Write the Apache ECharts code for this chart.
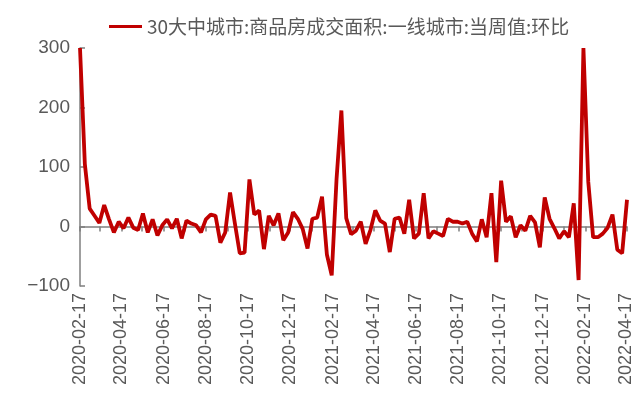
<!DOCTYPE html>
<html>
<head>
<meta charset="utf-8">
<script src="https://cdn.jsdelivr.net/npm/echarts@6/dist/echarts.min.js"></script>
<style>
  html, body { margin: 0; padding: 0; background: #ffffff; }
  #chart { width: 636px; height: 401px; }
</style>
</head>
<body>
<div id="chart"></div>
<script>
// Series name shown in the legend
const seriesName = '30大中城市:商品房成交面积:一线城市:当周值:环比';

// First weekly observation and the number of weeks
const firstWeek = [2020, 1, 17];   // 2020-02-17 (month is 0-based)
const weekCount = 114;

// Week-on-week change (%) per week
const wowChange = [
  300, 105, 30, 18, 6, 36, 12, -10, 8, -3,
  15, -2, -6, 22, -10, 12, -15, 2, 12, -3,
  13, -20, 10, 5, 2, -10, 12, 20, 18, -27,
  -10, 57, 5, -45, -44, 79, 20, 27, -38, 18,
  2, 22, -23, -10, 24, 13, -4, -37, 13, 15,
  50, -47, -82, 80, 195, 14, -13, -7, 8, -29,
  -6, 27, 10, 5, -43, 13, 15, -12, 45, -20,
  -12, 56, -20, -8, -12, -16, 13, 8, 8, 5,
  8, -12, -25, 12, -18, 56, -60, 77, 8, 17,
  -18, 2, -7, 18, 7, -35, 49, 13, -3, -20,
  -8, -18, 39, -90, 300, 75, -18, -18, -12, -2,
  20, -39, -45, 45
];

// Y axis range and step
const yMin = -100, yMax = 300, yStep = 100;

// Tick marks on the 17th of each month, labels every other month
const tickStart = [2020, 1, 17];
const tickMonths = 27;

const DAY = 86400000;
const weekDates = [];
for (let i = 0; i < weekCount; i++) {
  weekDates.push(new Date(firstWeek[0], firstWeek[1], firstWeek[2] + 7 * i).getTime());
}
const tickValues = [];
const labelValues = [];
for (let m = 0; m < tickMonths; m++) {
  const t = new Date(tickStart[0], tickStart[1] + m, tickStart[2]).getTime();
  tickValues.push(t);
  if (m % 2 === 0) labelValues.push(t);
}

function fmtDate(v) {
  // half a day of slack keeps the date stable under rounding
  const d = new Date(v + DAY / 2);
  const mm = String(d.getMonth() + 1).padStart(2, '0');
  const dd = String(d.getDate()).padStart(2, '0');
  return d.getFullYear() + '-' + mm + '-' + dd;
}

const xMin = weekDates[0];
const xMax = weekDates[weekDates.length - 1];
const textColor = '#595959';
const axisColor = '#7f7f7f';

const chart = echarts.init(document.getElementById('chart'), null, { renderer: 'canvas' });
chart.setOption({
  animation: false,
  backgroundColor: '#ffffff',
  textStyle: { fontFamily: 'Liberation Sans, Arial, sans-serif' },
  legend: {
    show: true,
    left: 104,
    top: 12,
    icon: 'rect',
    itemWidth: 33,
    itemHeight: 3,
    itemGap: 5,
    textStyle: { color: textColor, fontSize: 19, fontFamily: 'Noto Sans CJK SC' },
    data: [seriesName]
  },
  grid: { left: 80, right: 9, top: 48, bottom: 115, containLabel: false },
  xAxis: [
    {
      // Axis line and monthly ticks sitting on the zero line
      type: 'value',
      min: xMin,
      max: xMax,
      axisLine: { show: true, onZero: true, lineStyle: { color: axisColor, width: 1.5 } },
      axisTick: { show: true, inside: false, length: 5, customValues: tickValues, lineStyle: { color: axisColor, width: 1.5 } },
      axisLabel: { show: false },
      splitLine: { show: false }
    },
    {
      // Date labels along the bottom edge
      type: 'value',
      position: 'bottom',
      min: xMin,
      max: xMax,
      axisLine: { show: false, onZero: false },
      axisTick: { show: false },
      splitLine: { show: false },
      axisLabel: {
        show: true,
        customValues: labelValues,
        rotate: 90,
        margin: 7,
        color: textColor,
        fontSize: 18,
        showMinLabel: true,
        showMaxLabel: true,
        hideOverlap: false,
        formatter: (v) => fmtDate(v)
      }
    }
  ],
  yAxis: {
    type: 'value',
    min: yMin,
    max: yMax,
    interval: yStep,
    axisLine: { show: true, lineStyle: { color: axisColor, width: 1.5 } },
    axisTick: { show: true, inside: true, length: 5, lineStyle: { color: axisColor, width: 1.5 } },
    axisLabel: {
      color: textColor,
      fontSize: 19,
      margin: 10,
      formatter: (v) => String(v).replace('-', '\u2212')
    },
    splitLine: { show: false }
  },
  series: [
    {
      name: seriesName,
      type: 'line',
      xAxisIndex: 0,
      showSymbol: false,
      symbol: 'none',
      lineStyle: { color: '#C00000', width: 3.8 },
      itemStyle: { color: '#C00000' },
      data: weekDates.map((d, i) => [d, wowChange[i]])
    }
  ]
});
</script>
</body>
</html>
